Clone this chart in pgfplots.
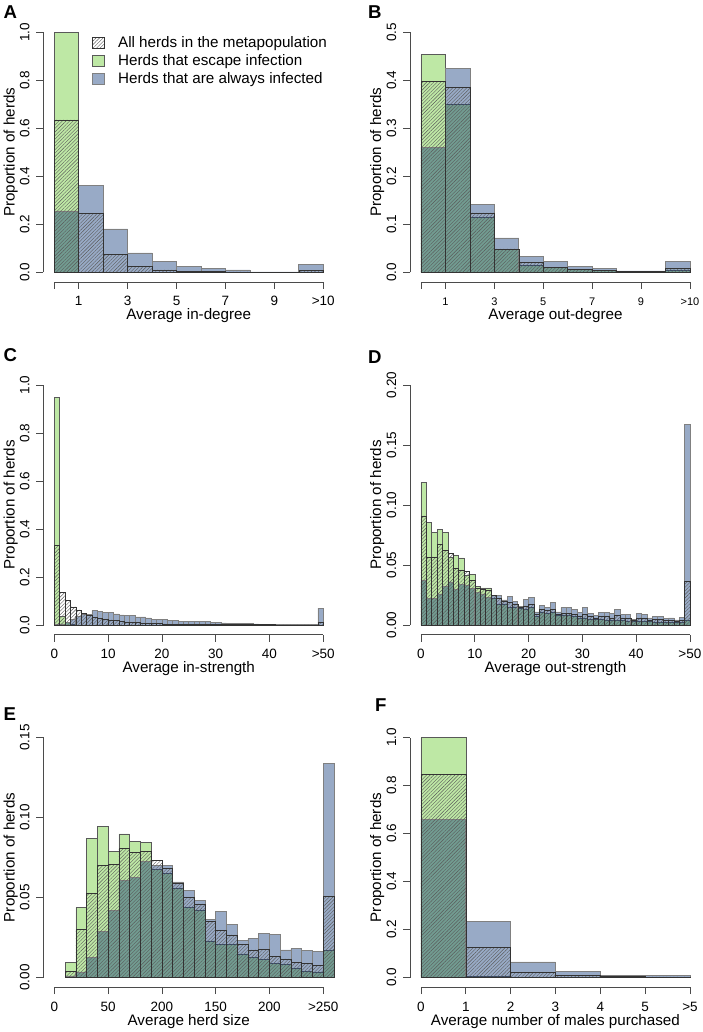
\documentclass[border=0pt]{standalone}
\usepackage{fontspec}
\setmainfont{Liberation Sans}
\usepackage{pgfplots}
\pgfplotsset{compat=1.18}
\usetikzlibrary{patterns.meta}
\definecolor{escfill}{RGB}{190,232,165}
\definecolor{infcol}{RGB}{10,53,119}
\definecolor{axcol}{RGB}{75,75,75}
\newcommand{\ticksize}{\fontsize{13.5}{16}\selectfont}
\newcommand{\labsize}{\fontsize{15.2}{18}\selectfont}
\tikzset{axl/.style={axcol, line width=0.7pt}}
\pgfplotsset{
  rpanel/.style={
    scale only axis, width=290.5pt, height=259.2pt,
    anchor=north west,
    axis x line*=bottom, axis y line*=left,
    axis line style={draw=none,-},
    tick align=outside, major tick length=7pt,
    every tick/.style={axcol, line width=0.7pt},
    clip=false,
    xticklabel style={font=\ticksize, anchor=base, inner sep=0pt},
    xticklabel shift=17pt,
    yticklabel style={font=\ticksize, rotate=90, anchor=base, inner sep=0pt},
    yticklabel shift=7.1pt,
    every axis x label/.style={at={(axis description cs:0.5,-0.1466)}, anchor=base, inner sep=0pt, font=\labsize},
    every axis y label/.style={at={(axis description cs:-0.0998,0.5)}, rotate=90, anchor=base, inner sep=0pt, font=\labsize},
    ylabel={Proportion of herds},
    scaled y ticks=false, scaled x ticks=false,
  },
  escape/.style={ybar interval, fill=escfill, draw=black!65, line width=0.5pt, forget plot},
  infect/.style={ybar interval, fill=infcol, fill opacity=0.42, draw=black!50, line width=0.6pt, forget plot},
  allh/.style={ybar interval, pattern={Lines[angle=45,distance=2.5pt,line width=0.4pt]}, pattern color=black!65, draw=black!80, line width=0.5pt, forget plot},
}
\begin{document}
\begin{tikzpicture}
\path[use as bounding box] (0,0) rectangle (703pt,-1032pt);
\tikzset{panel/.style={anchor=base west, inner sep=0pt, font=\bfseries\fontsize{18.6}{20}\selectfont}}
\node[panel] at (3.3pt,-18.3pt) {A};
\node[panel] at (368pt,-18.3pt) {B};
\node[panel] at (3.3pt,-361.6pt) {C};
\node[panel] at (368pt,-363.3pt) {D};
\node[panel] at (3.3pt,-720pt) {E};
\node[panel] at (375pt,-711.3pt) {F};

% ---------------- A
\begin{axis}[rpanel, at={(43.5pt,-22.7pt)},
  xmin=-0.44, xmax=11.44, ymin=-0.04, ymax=1.04,
  xtick={0,1,3,5,7,9,11}, xticklabels={,1,3,5,7,9,>10},
  ytick={0,0.2,0.4,0.6,0.8,1.0}, yticklabels={0.0,0.2,0.4,0.6,0.8,1.0},
  xlabel={Average in-degree},
  legend image code/.code={\draw[#1] (0pt,-5.75pt) rectangle (11.5pt,5.75pt);},
  legend cell align=left,
  legend style={at={(axis description cs:0.167,0.947)}, anchor=north west, draw=none, fill=none,
    inner sep=0pt, row sep=5.3pt, font=\labsize, nodes={inner sep=0pt},
    /tikz/every odd column/.append style={column sep=14pt}},
]
\addplot[escape] coordinates {(0,1.0) (1,0) (11,0)};
\addplot[infect] coordinates {(0,0.256) (1,0.361) (2,0.181) (3,0.081) (4,0.046) (5,0.024) (6,0.015) (7,0.010) (8,0.002) (9,0.002) (10,0.033) (11,0)};
\addplot[allh] coordinates {(0,0.635) (1,0.246) (2,0.076) (3,0.024) (4,0.010) (5,0.005) (6,0.003) (7,0.002) (8,0.0005) (9,0.0005) (10,0.008) (11,0)};
\addlegendimage{pattern={Lines[angle=45,distance=2.5pt,line width=0.4pt]}, pattern color=black!65, draw=black!80}
\addlegendentry{All herds in the metapopulation}
\addlegendimage{fill=escfill, draw=black!65}
\addlegendentry{Herds that escape infection}
\addlegendimage{fill=infcol, fill opacity=0.42, draw=black!50}
\addlegendentry{Herds that are always infected}
\draw[axl] (axis cs:0,-0.04) -- (axis cs:11,-0.04);
\draw[axl] (axis cs:-0.44,0) -- (axis cs:-0.44,1);
\end{axis}

% ---------------- B
\begin{axis}[rpanel, at={(410.2pt,-22.7pt)},
  xmin=-0.44, xmax=11.44, ymin=-0.02, ymax=0.52,
  xtick={0,1,3,5,7,9,11}, xticklabels={,1,3,5,7,9,>10},
  xticklabel style={font=\fontsize{11}{13}\selectfont},
  ytick={0,0.1,0.2,0.3,0.4,0.5}, yticklabels={0.0,0.1,0.2,0.3,0.4,0.5},
  xlabel={Average out-degree},
]
\addplot[escape] coordinates {(0,0.4535) (1,0.350) (2,0.115) (3,0.048) (4,0.0146) (5,0.0104) (6,0.006) (7,0.004) (8,0.002) (9,0.002) (10,0.005) (11,0)};
\addplot[infect] coordinates {(0,0.260) (1,0.424) (2,0.142) (3,0.0715) (4,0.033) (5,0.023) (6,0.012) (7,0.008) (8,0.003) (9,0.003) (10,0.023) (11,0)};
\addplot[allh] coordinates {(0,0.397) (1,0.385) (2,0.124) (3,0.049) (4,0.020) (5,0.011) (6,0.006) (7,0.004) (8,0.002) (9,0.002) (10,0.008) (11,0)};
\draw[axl] (axis cs:0,-0.02) -- (axis cs:11,-0.02);
\draw[axl] (axis cs:-0.44,0) -- (axis cs:-0.44,0.5);
\end{axis}

% ---------------- C
\begin{axis}[rpanel, at={(43.5pt,-375.4pt)},
  xmin=-2, xmax=52, ymin=-0.04, ymax=1.04,
  xtick={0,10,20,30,40,50}, xticklabels={0,10,20,30,40,>50},
  ytick={0,0.2,0.4,0.6,0.8,1.0}, yticklabels={0.0,0.2,0.4,0.6,0.8,1.0},
  xlabel={Average in-strength},
]
\addplot[escape] coordinates {(0,0.947) (1,0.0375) (2,0.012) (3,0.003) (4,0.001) (5,0) (50,0)};
\addplot[infect] coordinates {(0,0.003) (1,0.005) (2,0.012) (3,0.025) (4,0.038) (5,0.044) (6,0.043) (7,0.060) (8,0.057) (9,0.054) (10,0.053) (11,0.046) (12,0.042) (13,0.040) (14,0.040) (15,0.034) (16,0.034) (17,0.030) (18,0.025) (19,0.025) (20,0.025) (21,0.018) (22,0.018) (23,0.015) (24,0.014) (25,0.016) (26,0.016) (27,0.016) (28,0.014) (29,0.010) (30,0.010) (31,0.009) (32,0.008) (33,0.007) (34,0.006) (35,0.006) (36,0.006) (37,0.005) (38,0.004) (39,0.004) (40,0.003) (41,0.004) (42,0.004) (43,0.004) (44,0.002) (45,0.002) (46,0.002) (47,0.003) (48,0.001) (49,0.070) (50,0)};
\addplot[allh] coordinates {(0,0.331) (1,0.136) (2,0.104) (3,0.076) (4,0.063) (5,0.049) (6,0.040) (7,0.032) (8,0.027) (9,0.023) (10,0.021) (11,0.018) (12,0.015) (13,0.013) (14,0.011) (15,0.010) (16,0.009) (17,0.008) (18,0.007) (19,0.006) (20,0.005) (21,0.004) (22,0.004) (23,0.004) (24,0.004) (25,0.004) (26,0.003) (27,0.003) (28,0.003) (29,0.003) (30,0.003) (31,0.002) (32,0.002) (33,0.002) (34,0.002) (35,0.002) (36,0.002) (37,0.002) (38,0.002) (39,0.002) (40,0.002) (41,0.001) (42,0.001) (43,0.001) (44,0.001) (45,0.001) (46,0.001) (47,0.001) (48,0.001) (49,0.010) (50,0)};
\draw[axl] (axis cs:0,-0.04) -- (axis cs:50,-0.04);
\draw[axl] (axis cs:-2,0) -- (axis cs:-2,1);
\end{axis}

% ---------------- D
\begin{axis}[rpanel, at={(410.2pt,-375.4pt)},
  xmin=-2, xmax=52, ymin=-0.008, ymax=0.208,
  xtick={0,10,20,30,40,50}, xticklabels={0,10,20,30,40,>50},
  ytick={0,0.05,0.10,0.15,0.20}, yticklabels={0.00,0.05,0.10,0.15,0.20},
  xlabel={Average out-strength},
]
\addplot[escape] coordinates {(0,0.119) (1,0.0855) (2,0.077) (3,0.0795) (4,0.077) (5,0.0565) (6,0.058) (7,0.056) (8,0.0415) (9,0.0424) (10,0.032) (11,0.031) (12,0.031) (13,0.0224) (14,0.0175) (15,0.017) (16,0.0147) (17,0.0152) (18,0.0139) (19,0.013) (20,0.0147) (21,0.007) (22,0.011) (23,0.010) (24,0.0105) (25,0.008) (26,0.008) (27,0.008) (28,0.007) (29,0.006) (30,0.006) (31,0.005) (32,0.005) (33,0.005) (34,0.004) (35,0.004) (36,0.004) (37,0.004) (38,0.003) (39,0.003) (40,0.003) (41,0.003) (42,0.003) (43,0.002) (44,0.002) (45,0.002) (46,0.002) (47,0.002) (48,0.002) (49,0.0042) (50,0)};
\addplot[infect] coordinates {(0,0.037) (1,0.022) (2,0.022) (3,0.026) (4,0.032) (5,0.036) (6,0.030) (7,0.034) (8,0.033) (9,0.0305) (10,0.027) (11,0.026) (12,0.023) (13,0.025) (14,0.0247) (15,0.021) (16,0.0238) (17,0.0194) (18,0.0152) (19,0.0213) (20,0.0233) (21,0.011) (22,0.0163) (23,0.0147) (24,0.0188) (25,0.011) (26,0.0144) (27,0.0144) (28,0.0133) (29,0.0102) (30,0.0144) (31,0.0097) (32,0.0083) (33,0.0108) (34,0.0108) (35,0.0097) (36,0.0133) (37,0.0091) (38,0.0091) (39,0.0047) (40,0.0097) (41,0.0091) (42,0.006) (43,0.0069) (44,0.0069) (45,0.0053) (46,0.006) (47,0.0042) (48,0.0064) (49,0.167) (50,0)};
\addplot[allh] coordinates {(0,0.0909) (1,0.0562) (2,0.0568) (3,0.0673) (4,0.0623) (5,0.0596) (6,0.047) (7,0.046) (8,0.0449) (9,0.037) (10,0.031) (11,0.030) (12,0.029) (13,0.025) (14,0.022) (15,0.020) (16,0.019) (17,0.017) (18,0.015) (19,0.016) (20,0.017) (21,0.009) (22,0.013) (23,0.012) (24,0.013) (25,0.009) (26,0.010) (27,0.010) (28,0.009) (29,0.007) (30,0.009) (31,0.007) (32,0.006) (33,0.007) (34,0.007) (35,0.006) (36,0.008) (37,0.006) (38,0.006) (39,0.004) (40,0.006) (41,0.006) (42,0.004) (43,0.005) (44,0.005) (45,0.004) (46,0.004) (47,0.003) (48,0.004) (49,0.0363) (50,0)};
\draw[axl] (axis cs:0,-0.008) -- (axis cs:50,-0.008);
\draw[axl] (axis cs:-2,0) -- (axis cs:-2,0.2);
\end{axis}

% ---------------- E
\begin{axis}[rpanel, at={(43.5pt,-727.9pt)},
  xmin=-10, xmax=260, ymin=-0.006, ymax=0.156,
  xtick={0,50,100,150,200,250}, xticklabels={0,50,200,150,200,>250},
  ytick={0,0.05,0.10,0.15}, yticklabels={0.00,0.05,0.10,0.15},
  xlabel={Average herd size},
]
\addplot[escape] coordinates {(10,0.0094) (20,0.0437) (30,0.087) (40,0.0946) (50,0.079) (60,0.0898) (70,0.085) (80,0.0844) (90,0.0675) (100,0.065) (110,0.0556) (120,0.0437) (130,0.042) (140,0.0229) (150,0.0206) (160,0.0206) (170,0.0148) (180,0.0127) (190,0.0113) (200,0.0088) (210,0.0083) (220,0.006) (230,0.0038) (240,0.0035) (250,0.0169) (260,0)};
\addplot[infect] coordinates {(10,0.001) (20,0.0035) (30,0.0125) (40,0.029) (50,0.0419) (60,0.0608) (70,0.0627) (80,0.0727) (90,0.070) (100,0.070) (110,0.0598) (120,0.0546) (130,0.0483) (140,0.0365) (150,0.0413) (160,0.0331) (170,0.0233) (180,0.0242) (190,0.0275) (200,0.0269) (210,0.0173) (220,0.0181) (230,0.0167) (240,0.0163) (250,0.1338) (260,0)};
\addplot[allh] coordinates {(10,0.004) (20,0.030) (30,0.0525) (40,0.070) (50,0.0708) (60,0.0806) (70,0.078) (80,0.079) (90,0.0731) (100,0.068) (110,0.059) (120,0.050) (130,0.046) (140,0.035) (150,0.0296) (160,0.0267) (170,0.0206) (180,0.0173) (190,0.0175) (200,0.0133) (210,0.0117) (220,0.0094) (230,0.0088) (240,0.0075) (250,0.0508) (260,0)};
\draw[axl] (axis cs:0,-0.006) -- (axis cs:250,-0.006);
\draw[axl] (axis cs:-10,0) -- (axis cs:-10,0.15);
\end{axis}

% ---------------- F
\begin{axis}[rpanel, at={(410.2pt,-727.9pt)},
  xmin=-0.24, xmax=6.24, ymin=-0.04, ymax=1.04,
  xtick={0,1,2,3,4,5,6}, xticklabels={0,1,2,3,4,5,>5},
  ytick={0,0.2,0.4,0.6,0.8,1.0}, yticklabels={0.0,0.2,0.4,0.6,0.8,1.0},
  xlabel={Average number of males purchased},
]
\addplot[escape] coordinates {(0,1.0) (1,0.004) (2,0) (6,0)};
\addplot[infect] coordinates {(0,0.658) (1,0.235) (2,0.065) (3,0.024) (4,0.010) (5,0.008) (6,0)};
\addplot[allh] coordinates {(0,0.847) (1,0.125) (2,0.021) (3,0.008) (4,0.004) (5,0.003) (6,0)};
\draw[axl] (axis cs:0,-0.04) -- (axis cs:6,-0.04);
\draw[axl] (axis cs:-0.24,0) -- (axis cs:-0.24,1);
\end{axis}
\end{tikzpicture}
\end{document}
